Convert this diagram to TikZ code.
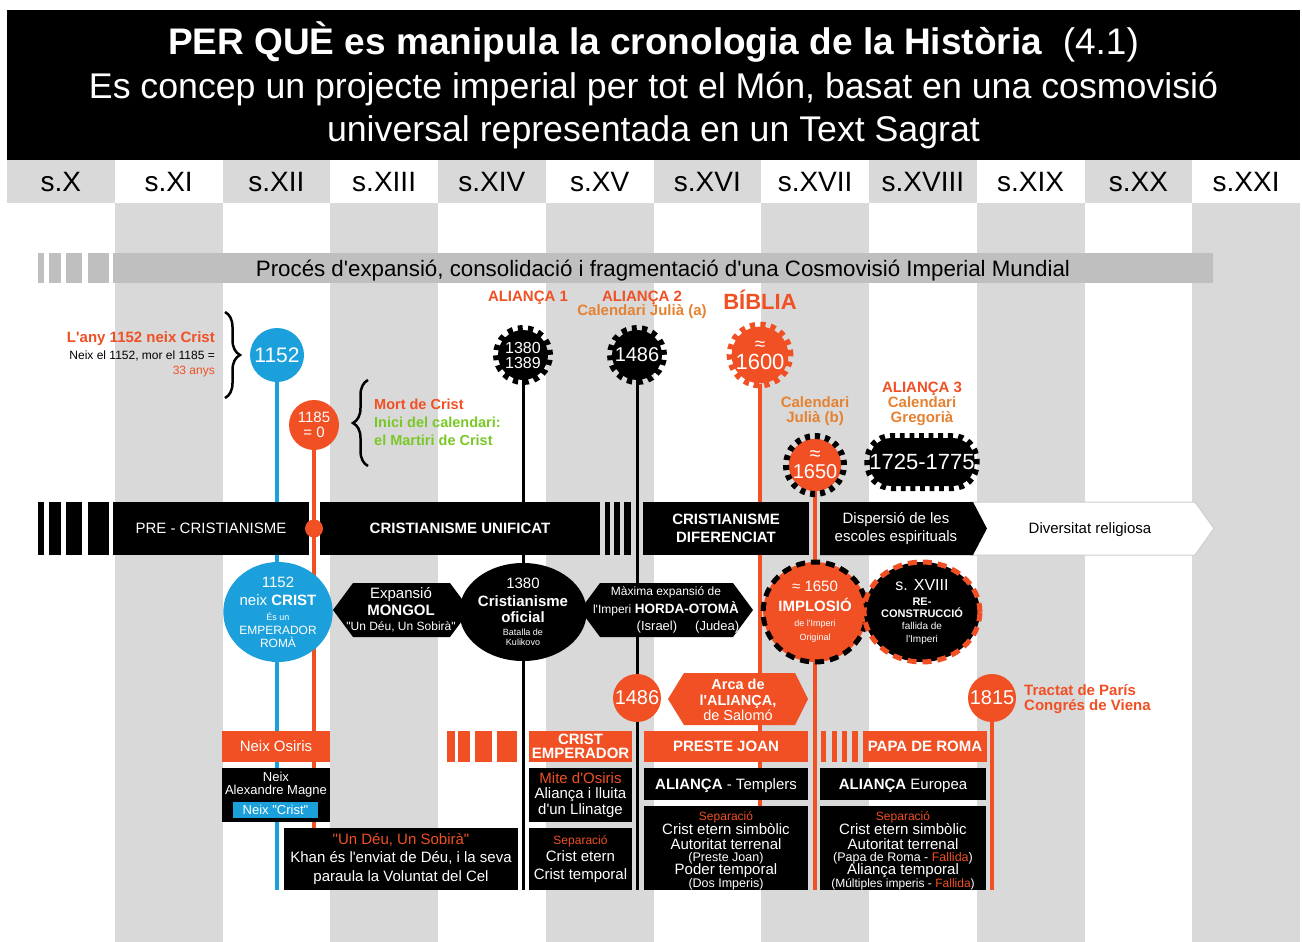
\documentclass[tikz,border=0pt]{standalone}
\usepackage{fontspec}
\setmainfont{Liberation Sans}[Ligatures=TeXOff]
\usetikzlibrary{shapes.geometric,decorations.pathreplacing}
\definecolor{orng}{RGB}{240,80,35}
\definecolor{ambr}{RGB}{228,130,50}
\definecolor{blu}{RGB}{28,160,220}
\definecolor{grn}{RGB}{122,200,40}
\definecolor{gryL}{RGB}{217,217,217}
\definecolor{gryB}{RGB}{191,191,191}
\definecolor{gryO}{RGB}{205,205,205}
\newcommand\fsb[2]{\fontsize{#1}{#2}\selectfont}
\newcommand\fs[1]{\fontsize{#1}{#1}\selectfont}
\pgfdeclarelayer{bg}
\pgfdeclarelayer{lines}
\pgfsetlayers{bg,lines,main}
\lineskiplimit=-100pt
\begin{document}
\begin{tikzpicture}[x=1pt,y=-1pt,
  lbl/.style={inner sep=0pt, align=center},
  box/.style={fill=black, inner sep=0pt, text=white, align=center},
  obox/.style={fill=orng, inner sep=0pt, text=white, align=center},
  cap/.style={text height=#1, text depth=0pt},
  disc/.style={circle, fill=#1, inner sep=0pt, text=white, align=center},
  gear/.style={circle, fill=#1, inner sep=0pt, minimum size=50pt, text=white, align=center,
    postaction={draw=#1, line width=10pt, dash pattern=on 4.91pt off 4.91pt}},
  dcirc/.style 2 args={ellipse, fill=#1, inner sep=0pt, minimum width=94pt, minimum height=100pt,
    text=white, align=center, postaction={draw=#2, line width=5pt, dash pattern=on 9pt off 6pt}},
  vline/.style={line width=3.5pt, draw=#1},
  bline/.style={line width=3pt, draw=black},
  brc/.style={decorate, decoration={brace, amplitude=15pt}, line width=2.5pt},
]
\useasboundingbox (0,0) rectangle (1302,942);
% ---------- background ----------
\begin{pgfonlayer}{bg}
\fill[white] (0,0) rectangle (1302,942);
\foreach \i in {1,3,5,7,9,11} \fill[gryL] ({7+\i*107.75},203) rectangle ({7+(\i+1)*107.75},942);
\foreach \i in {0,2,4,6,8,10} \fill[gryL] ({7+\i*107.75},160) rectangle ({7+(\i+1)*107.75},203);
\fill[black] (7,10) rectangle (1300,160);
\end{pgfonlayer}
% ---------- header ----------
\node[lbl, anchor=base, text=white, font=\fs{37}] (t1) at (653.5,55) {\textbf{PER QUÈ es manipula la cronologia de la Història}\ \ (4.1)};
\node[lbl, anchor=base, text=white, font=\fs{35.7}] (t2) at (653.5,99) {Es concep un projecte imperial per tot el Món, basat en una cosmovisió};
\node[lbl, anchor=base, text=white, font=\fs{35.7}] (t3) at (653.5,141) {universal representada en un Text Sagrat};
\foreach \t [count=\i from 0] in {X,XI,XII,XIII,XIV,XV,XVI,XVII,XVIII,XIX,XX,XXI}
  \node[lbl, font=\fs{28}] (cent\i) at ({7+(\i+0.5)*107.75},182) {s.\t};
% ---------- process bar ----------
\foreach \a/\b in {38/44,49/61,66/82,88/109} \fill[gryB] (\a,253) rectangle (\b,283);
\node[fill=gryB, minimum width=1100pt, minimum height=30pt, inner sep=0pt, font=\fs{22.3}, cap=16pt] (proc) at (663,268) {Procés d'expansió, consolidació i fragmentació d'una Cosmovisió Imperial Mundial};
% ---------- top markers ----------
\node[disc=blu, minimum size=54pt, font=\fs{21}] (c1152) at (277,355) {1152};
\node[disc=orng, minimum size=50pt, font=\fsb{15}{15}] (c1185) at (314,425) {1185\\= 0};
\node[gear=black, font=\fsb{16}{15}] (g1380) at (523,355) {1380\\1389};
\node[gear=black, font=\fs{20}] (g1486) at (637,355) {1486};
\node[gear=orng, minimum size=52pt, font=\fsb{22}{19}] (g1600) at (760,355) {{\fs{19}≈}\\1600};
\node[disc=orng, minimum size=50pt, font=\fsb{20}{18}] (g1650) at (815,465) {≈\\1650};
\draw[black, line width=6pt, dash pattern=on 5.06pt off 5.06pt] (g1650.center) circle (29pt);
\node[rectangle, rounded corners=22pt, fill=black, inner sep=0pt, minimum width=105pt, minimum height=48pt,
  text=white, font=\fs{22}, postaction={draw=black, line width=10pt, dash pattern=on 4.79pt off 4.79pt}] (g1725) at (922,462) {1725-1775};
% ---------- top labels ----------
\node[anchor=east, align=right, inner sep=0pt, font=\fsb{12}{15}] (lany) at (215,354)
  {{\fs{15}\bfseries\color{orng}L'any 1152 neix Crist}\\[2pt]Neix el 1152, mor el 1185 =\\{\color{orng}33 anys}};
\draw[brc] (225,312) -- (225,398);
\draw[brc] (368,466) -- (368,380);
\node[anchor=west, align=left, inner sep=0pt, font=\fsb{14.5}{18}\bfseries] (mort) at (374,422)
  {{\color{orng}Mort de Crist}\\{\color{grn}Inici del calendari:}\\{\color{grn}el Martiri de Crist}};
\node[lbl, font=\fs{15}\bfseries, text=orng] (al1) at (528,298) {ALIANÇA 1};
\node[lbl, font=\fsb{15}{14}\bfseries, text=orng] (al2) at (642,305) {ALIANÇA 2\\{\color{ambr}Calendari Julià (a)}};
\node[lbl, font=\fs{22}\bfseries, text=orng] (bib) at (760,300) {BÍBLIA};
\node[lbl, font=\fsb{15}{15}\bfseries, text=ambr] (julb) at (815,411) {Calendari\\Julià (b)};
\node[lbl, font=\fsb{15}{15}\bfseries, text=ambr] (al3) at (922,404) {{\color{orng}ALIANÇA 3}\\Calendari\\Gregorià};
% ---------- main timeline bar ----------
\foreach \a/\b in {38/44,49/61,66/82,88/109} \fill[black] (\a,502) rectangle (\b,555);
\node[box, minimum width=196pt, minimum height=53pt, font=\fs{15}] (pre) at (211,528.5) {PRE - CRISTIANISME};
\node[box, minimum width=280pt, minimum height=53pt, font=\fs{15}\bfseries] (unif) at (460,528.5) {CRISTIANISME UNIFICAT};
\foreach \a/\b in {605/610,614/620,624/631} \fill[black] (\a,502) rectangle (\b,555);
\node[box, minimum width=166pt, minimum height=53pt, font=\fsb{15}{18}\bfseries] (difer) at (726,528.5) {CRISTIANISME\\DIFERENCIAT};
\fill[white, draw=gryO, line width=1pt] (970,502) -- (1195,502) -- (1214,528.5) -- (1195,555) -- (970,555);
\node[lbl, font=\fs{15}, cap=10.7pt] (divers) at (1090,528.5) {Diversitat religiosa};
\fill[black] (820,502) -- (973,502) -- (987,528.5) -- (973,555) -- (820,555) -- cycle;
\node[lbl, text=white, font=\fsb{15}{18}] (disp) at (896,528.5) {Dispersió de les\\escoles espirituals};
\node[disc=orng, minimum size=18pt] (dot) at (314,528.5) {};
% ---------- second row ----------
\node[ellipse, fill=blu, minimum width=96pt, minimum height=100pt, inner sep=0pt, text=white, align=center, font=\fsb{12}{13}] (e1152) at (278,612)
  {{\fs{15}1152}\\[5pt]{\fs{15}neix \textbf{CRIST}}\\[1.8pt]{\fs{9}És un}\\[1pt]EMPERADOR\\ROMÀ};
\fill[black] (333,610) -- (353,583) -- (450,583) -- (470,610) -- (450,637) -- (353,637) -- cycle;
\node[lbl, text=white, font=\fsb{15}{17}] (mongol) at (401,610) {Expansió\\\textbf{MONGOL}\\[-2pt]{\fs{12}"Un Déu, Un Sobirà"}};
\node[ellipse, fill=black, minimum width=94pt, minimum height=98pt, inner sep=0pt, text=white, align=center, font=\fsb{15}{16.5}] (e1380) at (523,612)
  {1380\\[1.5pt]\textbf{Cristianisme}\\[-0.5pt]\textbf{oficial}\\[-3.5pt]{\fs{9}Batalla de}\\[-6.5pt]{\fs{9}Kulikovo}};
\fill[black] (580,610) -- (600,583) -- (733,583) -- (753,610) -- (733,637) -- (600,637) -- cycle;
\node[lbl, text=white, font=\fsb{13}{17}] (maxima) at (666,610)
  {{\fs{12}Màxima expansió de}\\[1.5pt]{\fs{12}l'Imperi} {\fs{13.5}\bfseries HORDA-OTOMÀ}\\\hspace*{44pt}(Israel)\hspace{18pt}(Judea)};
\node[dcirc={orng}{black}, font=\fsb{15}{17}] (impl) at (815,612)
  {≈ 1650\\[3pt]\textbf{IMPLOSIÓ}\\[-2.3pt]{\fs{9}de l'Imperi}\\[-3pt]{\fs{9}Original}};
\node[dcirc={black}{orng}, font=\fsb{16}{17}] (rec) at (922,612)
  {s. XVIII\\[-2pt]{\fs{11}\bfseries RE-}\\[-5pt]{\fs{11}\bfseries CONSTRUCCIÓ}\\[-4.3pt]{\fs{10}fallida de}\\[-4pt]{\fs{10}l'Imperi}};
% ---------- third row ----------
\fill[orng] (668,699) -- (684,673) -- (795,673) -- (808,699) -- (795,725) -- (684,725) -- cycle;
\node[lbl, text=white, font=\fsb{14.5}{15.5}] (arca) at (738,700) {\textbf{Arca de}\\\textbf{l'ALIANÇA,}\\de Salomó};
\node[disc=orng, minimum size=48pt, font=\fs{20}] (c1486) at (637,698) {1486};
\node[disc=orng, minimum size=48pt, font=\fs{20}] (c1815) at (992,698) {1815};
\node[anchor=west, align=left, inner sep=0pt, text=orng, font=\fsb{15}{15}\bfseries] (tract) at (1024,699) {Tractat de París\\Congrés de Viena};
% ---------- bottom boxes ----------
\node[obox, minimum width=108pt, minimum height=31pt, font=\fs{15}] (osiris) at (276,746.5) {Neix Osiris};
\node[box, minimum width=108pt, minimum height=54pt] (alex) at (276,795) {};
\node[lbl, text=white, font=\fsb{13}{13}] (alext) at (276,785) {Neix\\Alexandre Magne};
\node[fill=blu, minimum width=85pt, minimum height=16pt, inner sep=0pt, text=white, font=\fs{13}] (ncrist) at (275.5,810) {Neix "Crist"};
\node[box, minimum width=234pt, minimum height=62pt, font=\fsb{15}{18.5}] (undeu) at (401,859)
  {{\color{orng}"Un Déu, Un Sobirà"}\\Khan és l'enviat de Déu, i la seva\\paraula la Voluntat del Cel};
\foreach \a/\b in {447/455,458/470,475/492,497/517} \fill[orng] (\a,731) rectangle (\b,762);
\node[obox, minimum width=103pt, minimum height=31pt, font=\fsb{15}{14}\bfseries] (cemp) at (580.5,746.5) {CRIST\\EMPERADOR};
\node[box, minimum width=103pt, minimum height=54pt, font=\fsb{15}{15.5}] (mite) at (580.5,795)
  {{\color{orng}Mite d'Osiris}\\Aliança i lluita\\d'un Llinatge};
\node[box, minimum width=103pt, minimum height=62pt, font=\fsb{15}{18}] (sep1) at (580.5,859)
  {{\fs{12}\color{orng}Separació}\\[-0.9pt]Crist etern\\Crist temporal};
\node[obox, minimum width=164pt, minimum height=31pt, font=\fs{15}\bfseries, cap=10.7pt] (preste) at (726,746.5) {PRESTE JOAN};
\node[box, minimum width=164pt, minimum height=32pt, font=\fs{15}, cap=10.7pt] (altemp) at (726,784) {\textbf{ALIANÇA} - Templers};
\node[box, minimum width=164pt, minimum height=84pt] (sep2) at (726,848) {};
\node[lbl, text=white, font=\fsb{15}{14}] (sep2t) at (726,851)
  {{\fs{12}\color{orng}Separació}\\[0.1pt]Crist etern simbòlic\\[1pt]Autoritat terrenal\\[-1.9pt]{\fs{12.5}(Preste Joan)}\\[-1.1pt]Poder temporal\\[-0.9pt]{\fs{12.5}(Dos Imperis)}};
\foreach \a/\b in {821/826,832/837,842/847,852/858} \fill[orng] (\a,731) rectangle (\b,762);
\node[obox, minimum width=124pt, minimum height=31pt, font=\fs{15}\bfseries, cap=10.7pt] (papa) at (925,746.5) {PAPA DE ROMA};
\node[box, minimum width=166pt, minimum height=32pt, font=\fs{15}, cap=10.7pt] (aleur) at (903,784) {\textbf{ALIANÇA} Europea};
\node[box, minimum width=166pt, minimum height=84pt] (sep3) at (903,848) {};
\node[lbl, text=white, font=\fsb{15}{14}] (sep3t) at (903,851)
  {{\fs{12}\color{orng}Separació}\\[0.1pt]Crist etern simbòlic\\[1pt]Autoritat terrenal\\[-1.9pt]{\fs{12.5}(Papa de Roma - {\color{orng}Fallida})}\\[-1.1pt]Aliança temporal\\[-0.9pt]{\fs{12}(Múltiples imperis - {\color{orng}Fallida})}};
% ---------- connectors (vertical timelines) ----------
\coordinate (e1152) at (277,890);
\coordinate (e1185) at (314,830);
\coordinate (e1380) at (523,890);
\coordinate (e1486) at (637,890);
\coordinate (e1600) at (760,806);
\coordinate (e1650) at (815,890);
\coordinate (e1815) at (992,890);
\begin{pgfonlayer}{lines}
\draw[vline=blu] (c1152) -- (e1152);
\draw[vline=orng] (c1185) -- (e1185);
\draw[bline] (g1380) -- (e1380);
\draw[bline] (g1486) -- (e1486);
\draw[vline=orng] (g1600) -- (e1600);
\draw[vline=orng] (g1650) -- (e1650);
\draw[vline=orng] (c1815) -- (e1815);
\end{pgfonlayer}
\end{tikzpicture}
\end{document}
